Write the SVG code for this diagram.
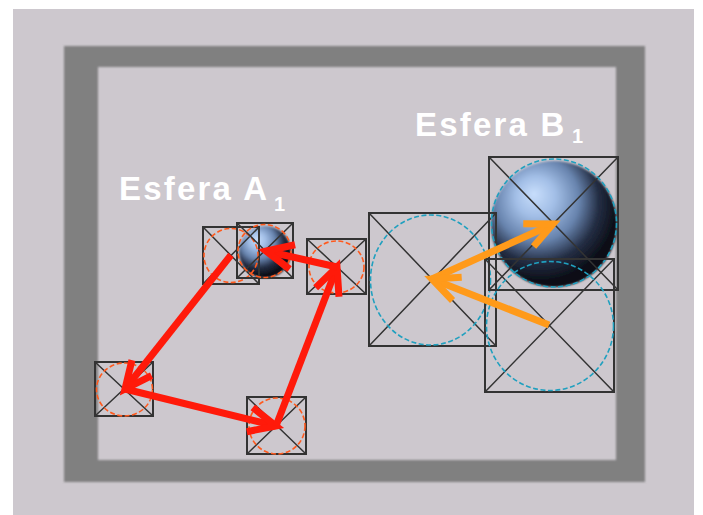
<svg xmlns="http://www.w3.org/2000/svg" width="703" height="515" viewBox="0 0 703 515">
  <style>
    .box { fill: none; stroke: #333333; stroke-width: 2; }
    .cross { stroke: #333333; stroke-width: 1.5; }
    .ringA { fill: none; stroke: #ff5a1e; stroke-width: 1.6; stroke-dasharray: 5 2.5; }
    .ringB { fill: none; stroke: #20a0bf; stroke-width: 1.6; stroke-dasharray: 5 2.5; }
    .red { fill: none; stroke: #ff1a0a; stroke-width: 7; marker-end: url(#headRed); }
    .orange { fill: none; stroke: #ff9a1a; stroke-width: 7; marker-end: url(#headOrange); }
    .label { font-family: "Liberation Sans", Arial, sans-serif; font-weight: bold; fill: #ffffff; }
  </style>
  <defs>
    <marker id="headRed" markerUnits="userSpaceOnUse" viewBox="-40 -25 50 50" markerWidth="50" markerHeight="50" refX="0" refY="0" orient="auto">
      <path d="M-27,-12.5 L0,0 L-27,12.5" fill="none" stroke="#ff1a0a" stroke-width="7" stroke-linejoin="miter"/>
    </marker>
    <marker id="headOrange" markerUnits="userSpaceOnUse" viewBox="-40 -25 50 50" markerWidth="50" markerHeight="50" refX="0" refY="0" orient="auto">
      <path d="M-27,-12.5 L0,0 L-27,12.5" fill="none" stroke="#ff9a1a" stroke-width="7" stroke-linejoin="miter"/>
    </marker>
    <radialGradient id="ballShade" cx="0.4" cy="0.36" r="0.72" fx="0.34" fy="0.26">
      <stop offset="0" stop-color="#c8defc"/>
      <stop offset="0.22" stop-color="#a2bee6"/>
      <stop offset="0.46" stop-color="#6884ae"/>
      <stop offset="0.66" stop-color="#242e44"/>
      <stop offset="0.84" stop-color="#0c0f18"/>
      <stop offset="1" stop-color="#0c0f18"/>
    </radialGradient>
    <filter id="soft" x="-10%" y="-10%" width="120%" height="120%">
      <feGaussianBlur stdDeviation="0.8"/>
    </filter>
  </defs>

  <!-- backdrop -->
  <rect x="0" y="0" width="703" height="515" fill="#ffffff"/>
  <rect x="13" y="9" width="681" height="506" fill="#cdc8ce"/>

  <!-- room walls -->
  <path d="M64,46 H645 V482 H64 Z M98,67 V460 H616 V67 Z" fill="#808080" fill-rule="evenodd" filter="url(#soft)"/>

  <!-- labels -->
  <g id="labelA">
    <text class="label" x="119" y="200" font-size="33" letter-spacing="2.2">Esfera A</text>
    <text class="label" x="274" y="211" font-size="20">1</text>
  </g>
  <g id="labelB">
    <text class="label" x="415" y="136" font-size="33" letter-spacing="2.2">Esfera B</text>
    <text class="label" x="572" y="143" font-size="20">1</text>
  </g>

  <!-- spheres -->
  <circle id="sphereB" cx="554" cy="224" r="63" fill="url(#ballShade)" filter="url(#soft)"/>
  <circle id="sphereA" cx="265" cy="252" r="26" fill="url(#ballShade)" filter="url(#soft)"/>

  <!-- positions of sphere A -->
  <g id="A0">
    <rect class="box" x="203" y="227" width="56" height="57"/>
    <path class="cross" d="M203,227 L259,284 M259,227 L203,284"/>
    <circle class="ringA" cx="231" cy="255.5" r="27"/>
  </g>
  <g id="A1">
    <rect class="box" x="237" y="223" width="56" height="55"/>
    <path class="cross" d="M237,223 L293,278 M293,223 L237,278"/>
    <circle class="ringA" cx="264.5" cy="251" r="26.5"/>
  </g>
  <g id="A2">
    <rect class="box" x="307" y="239" width="59" height="55"/>
    <path class="cross" d="M307,239 L366,294 M366,239 L307,294"/>
    <ellipse class="ringA" cx="336.5" cy="267" rx="27.5" ry="26"/>
  </g>
  <g id="A3">
    <rect class="box" x="247" y="397" width="59" height="57"/>
    <path class="cross" d="M247,397 L306,454 M306,397 L247,454"/>
    <circle class="ringA" cx="277" cy="426" r="28"/>
  </g>
  <g id="A4">
    <rect class="box" x="95" y="362" width="58" height="54"/>
    <path class="cross" d="M95,362 L153,416 M153,362 L95,416"/>
    <ellipse class="ringA" cx="124.5" cy="389.5" rx="28" ry="26.5"/>
  </g>

  <!-- positions of sphere B -->
  <g id="C">
    <rect class="box" x="369" y="213" width="127" height="133"/>
    <path class="cross" d="M369,213 L496,346 M496,213 L369,346"/>
    <ellipse class="ringB" cx="430.5" cy="280" rx="60" ry="65"/>
  </g>
  <g id="B1">
    <rect class="box" x="489" y="157" width="129" height="133"/>
    <path class="cross" d="M489,157 L618,290 M618,157 L489,290"/>
    <ellipse class="ringB" cx="554" cy="223" rx="62.5" ry="64"/>
  </g>
  <g id="B0">
    <rect class="box" x="485" y="259" width="129" height="133"/>
    <path class="cross" d="M485,259 L614,392 M614,259 L485,392"/>
    <ellipse class="ringB" cx="550" cy="326" rx="63.5" ry="64.5"/>
  </g>

  <!-- movement arrows -->
  <g id="connectors">
    <line class="red" x1="231" y1="255" x2="125" y2="389"/>
    <line class="red" x1="125" y1="389" x2="276" y2="426"/>
    <line class="red" x1="276" y1="426" x2="337" y2="267"/>
    <line class="red" x1="337" y1="267" x2="266" y2="251"/>
    <line class="orange" x1="432" y1="279" x2="553" y2="224"/>
    <line class="orange" x1="549" y1="325" x2="432" y2="279"/>
  </g>
</svg>
